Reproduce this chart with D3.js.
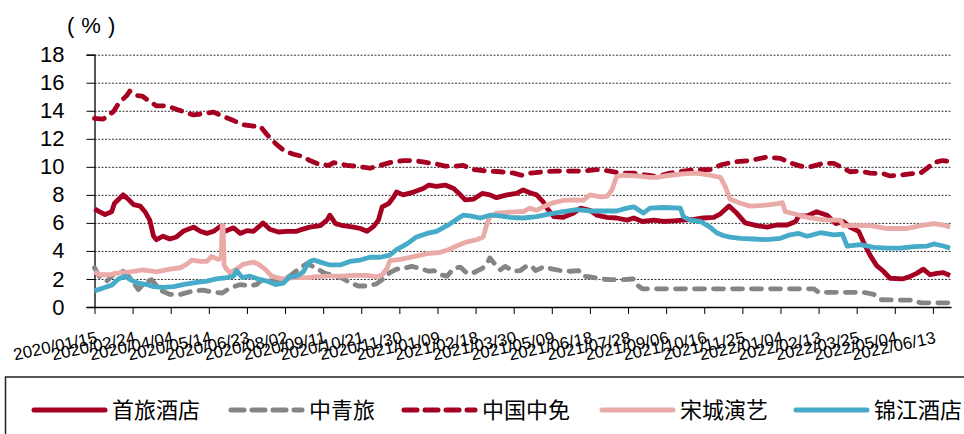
<!DOCTYPE html>
<html>
<head>
<meta charset="utf-8">
<script src="https://cdn.jsdelivr.net/npm/d3@7"></script>
<style>
    body { margin: 0; background: #fff; }
    svg  { display: block; }
</style>
</head>
<body>
<svg id="chart" width="964" height="434"></svg>
<script>
// x values are days counted from 2020/01/15, y values are %
const tickLabels = [
    '2020/01/15', '2020/02/24', '2020/04/04', '2020/05/14', '2020/06/23', '2020/08/02',
    '2020/09/11', '2020/10/21', '2020/11/30', '2021/01/09', '2021/02/18', '2021/03/30',
    '2021/05/09', '2021/06/18', '2021/07/28', '2021/09/06', '2021/10/16', '2021/11/25',
    '2022/01/04', '2022/02/13', '2022/03/25', '2022/05/04', '2022/06/13'
]
const yTicks = [0, 2, 4, 6, 8, 10, 12, 14, 16, 18]
const names  = ['首旅酒店', '中青旅', '中国中免', '宋城演艺', '锦江酒店']

const shouLv = [
    [0,7.0],[5,6.8],[11,6.6],[18,6.8],[21,7.4],[27,7.8],[30,8.0],[36,7.65],[41,7.3],[48,7.2],
    [53,6.8],[58,6.2],[62,5.05],[65,4.8],[72,5.05],[79,4.85],[86,5.0],[93,5.4],[104,5.7],[111,5.4],
    [118,5.25],[125,5.4],[132,5.75],[137,5.4],[146,5.65],[153,5.25],[160,5.45],[167,5.4],[177,6.0],[184,5.55],
    [193,5.35],[202,5.4],[212,5.4],[216,5.5],[226,5.7],[237,5.8],[244,6.2],[247,6.55],[253,5.95],[261,5.8],
    [272,5.7],[279,5.6],[286,5.4],[293,5.75],[298,6.2],[302,7.15],[309,7.4],[314,7.85],[317,8.2],[324,8.0],
    [335,8.2],[345,8.45],[351,8.7],[359,8.6],[368,8.7],[377,8.45],[384,8.0],[389,7.65],[398,7.7],[407,8.1],
    [415,8.0],[422,7.8],[433,8.0],[443,8.1],[450,8.35],[457,8.15],[464,8.0],[471,7.5],[475,7.05],[482,6.45],
    [492,6.4],[503,6.7],[510,7.05],[520,6.9],[527,6.55],[538,6.4],[548,6.35],[559,6.2],[566,6.35],[575,6.1],
    [587,6.2],[597,6.1],[608,6.15],[618,6.2],[629,6.25],[639,6.35],[650,6.4],[657,6.65],[666,7.2],[674,6.7],
    [683,6.0],[695,5.8],[706,5.7],[716,5.85],[727,5.85],[736,6.1],[739,6.5],[748,6.5],[758,6.8],[769,6.55],
    [778,5.95],[786,6.1],[793,5.7],[802,5.4],[807,4.65],[814,3.7],[821,2.95],[828,2.55],[835,2.05],[848,2.0],
    [855,2.15],[863,2.4],[870,2.7],[877,2.3],[884,2.4],[891,2.45],[898,2.25]
]

const zhongQingLv = [
    [0,2.8],[5,2.2],[13,1.85],[22,2.45],[30,2.55],[37,2.1],[46,1.25],[53,1.75],[60,1.95],[69,1.2],
    [79,0.9],[90,0.9],[104,1.15],[114,1.2],[125,1.05],[134,1.0],[142,1.35],[153,1.6],[163,1.5],[170,1.6],
    [177,2.0],[186,1.85],[195,1.85],[205,2.2],[216,2.8],[223,3.1],[232,2.8],[242,2.4],[251,2.25],[260,2.05],
    [268,1.75],[277,1.5],[286,1.5],[296,1.65],[302,1.95],[310,2.45],[317,2.7],[324,2.75],[333,2.9],[342,2.75],
    [351,2.55],[356,2.6],[363,2.3],[370,2.2],[377,2.75],[384,2.85],[391,2.4],[398,2.45],[407,2.75],[412,3.1],
    [415,3.5],[421,3.0],[426,2.65],[431,2.9],[440,2.55],[447,2.6],[454,2.95],[459,2.9],[463,2.6],[471,2.85],
    [478,2.75],[489,2.6],[499,2.55],[508,2.6],[513,2.2],[520,2.15],[531,2.0],[541,1.95],[552,1.95],[566,2.0],
    [571,1.5],[575,1.3],[600,1.3],[650,1.3],[700,1.3],[755,1.3],[760,1.05],[804,1.05],[811,1.0],[818,0.9],
    [825,0.52],[839,0.5],[860,0.48],[867,0.3],[898,0.3]
]

const zhongMian = [
    [0,13.45],[9,13.4],[20,13.95],[25,14.5],[34,15.1],[37,15.4],[43,15.1],[50,15.05],[57,14.7],[65,14.35],
    [76,14.35],[86,14.1],[95,13.9],[104,13.7],[114,13.8],[125,13.9],[135,13.6],[146,13.3],[156,13.0],[167,12.9],
    [174,12.9],[181,12.3],[191,11.6],[200,11.1],[209,10.9],[218,10.75],[226,10.45],[235,10.2],[246,10.1],[251,10.3],
    [265,10.1],[274,10.05],[289,9.9],[300,10.1],[310,10.3],[324,10.45],[335,10.45],[345,10.35],[359,10.2],[368,10.05],
    [379,10.05],[387,10.1],[398,9.8],[412,9.7],[426,9.65],[440,9.55],[448,9.4],[457,9.55],[471,9.65],[485,9.7],
    [499,9.7],[513,9.7],[527,9.8],[541,9.7],[552,9.55],[566,9.55],[580,9.4],[590,9.3],[604,9.55],[618,9.7],
    [632,9.8],[646,9.8],[658,10.15],[671,10.35],[688,10.45],[706,10.7],[720,10.6],[730,10.3],[741,10.05],[751,10.0],
    [765,10.25],[776,10.25],[786,9.9],[793,9.65],[804,9.7],[814,9.55],[828,9.5],[835,9.35],[846,9.4],[856,9.5],
    [867,9.55],[874,9.9],[881,10.3],[890,10.45],[895,10.4]
]

const songCheng = [
    [0,2.5],[6,2.3],[16,2.3],[27,2.45],[37,2.5],[51,2.65],[65,2.5],[79,2.7],[90,2.8],[97,3.05],
    [102,3.35],[111,3.25],[118,3.25],[123,3.6],[130,3.4],[133,3.5],[134,5.8],[135,5.8],[136,3.0],[138,2.75],
    [142,2.45],[149,2.7],[156,3.05],[167,3.2],[172,3.05],[179,2.7],[186,2.2],[197,2.0],[209,2.1],[225,2.1],
    [230,2.15],[244,2.2],[258,2.2],[272,2.25],[286,2.25],[296,2.15],[302,2.3],[307,2.75],[310,3.3],[321,3.4],
    [335,3.6],[349,3.8],[363,3.9],[372,4.1],[380,4.35],[391,4.65],[401,4.8],[408,5.0],[412,5.95],[415,6.45],
    [422,6.7],[433,6.75],[445,6.8],[450,6.8],[457,7.05],[464,6.9],[471,7.15],[482,7.45],[492,7.6],[506,7.65],
    [513,7.6],[520,8.0],[531,7.85],[538,7.9],[543,8.35],[548,9.3],[555,9.4],[569,9.35],[583,9.25],[590,9.25],
    [604,9.4],[618,9.5],[632,9.55],[646,9.4],[657,9.25],[662,8.6],[667,7.7],[678,7.4],[688,7.2],[702,7.25],
    [716,7.35],[722,7.45],[725,6.8],[734,6.65],[748,6.4],[762,6.25],[772,6.2],[783,6.2],[786,5.8],[800,5.8],
    [814,5.8],[832,5.6],[853,5.6],[867,5.8],[881,5.95],[891,5.85],[898,5.7]
]

const jinJiang = [
    [0,1.15],[9,1.35],[18,1.55],[25,2.0],[32,2.2],[39,1.9],[46,1.7],[55,1.6],[62,1.45],[72,1.4],
    [83,1.45],[93,1.6],[107,1.75],[118,1.85],[128,2.0],[139,2.1],[146,2.2],[149,2.6],[155,2.1],[163,2.2],
    [174,1.95],[181,1.85],[190,1.6],[198,1.7],[205,2.15],[212,2.2],[219,2.5],[225,3.2],[230,3.35],[237,3.2],
    [247,3.0],[258,3.0],[268,3.25],[279,3.35],[289,3.55],[300,3.55],[310,3.7],[317,4.1],[328,4.5],[338,5.0],
    [349,5.25],[359,5.4],[370,5.8],[380,6.25],[387,6.55],[394,6.5],[405,6.35],[415,6.55],[426,6.5],[436,6.4],
    [450,6.35],[464,6.45],[478,6.65],[492,6.8],[506,6.95],[520,6.85],[548,6.85],[559,7.05],[566,7.15],[576,6.7],
    [583,7.05],[597,7.1],[615,7.05],[618,6.45],[625,6.2],[636,6.1],[646,5.7],[653,5.3],[660,5.1],[667,4.98],
    [678,4.9],[692,4.85],[706,4.8],[720,4.9],[730,5.15],[739,5.25],[748,5.05],[762,5.3],[776,5.15],[785,5.2],
    [790,4.35],[804,4.45],[818,4.25],[832,4.2],[846,4.2],[860,4.3],[874,4.35],[881,4.5],[891,4.35],[898,4.2]
]

const series = [
    { name: names[0], values: shouLv,      color: '#a50021', dash: null },
    { name: names[1], values: zhongQingLv, color: '#858585', dash: '10,9' },
    { name: names[2], values: zhongMian,   color: '#a50021', dash: '10,9' },
    { name: names[3], values: songCheng,   color: '#eaaba8', dash: null },
    { name: names[4], values: jinJiang,    color: '#46abc8', dash: null }
]

const svg = d3.select('#chart')

const x = d3.scaleLinear().domain([0, 899]).range([94.5, 951])
const y = d3.scaleLinear().domain([0, 18]).range([307, 54.7])

// dotted grid
svg.append('g')
    .attr('transform', `translate(${x(0)},0)`)
    .call(d3.axisLeft(y).tickValues(yTicks.slice(1)).tickSize(-(x(899) - x(0))).tickFormat(''))
    .call(g => g.select('.domain').remove())
    .selectAll('line')
        .attr('stroke', '#333')
        .attr('stroke-width', 1)
        .attr('stroke-dasharray', '2,1.5')

// y axis
svg.append('g')
    .attr('transform', `translate(${x(0)},0)`)
    .call(d3.axisLeft(y).tickValues(yTicks).tickSize(8).tickPadding(22))
    .call(g => g.select('.domain').attr('stroke', '#000').attr('stroke-width', 1.3))
    .call(g => g.selectAll('line').attr('stroke', '#000'))
    .selectAll('text')
        .attr('fill', '#000')
        .style('font-family', '"Liberation Sans", Arial, sans-serif')
        .style('font-size', '22px')

// x axis
svg.append('g')
    .attr('transform', `translate(0,${y(0)})`)
    .call(d3.axisBottom(x)
        .tickValues(tickLabels.map((d, i) => i * 40))
        .tickFormat((d, i) => tickLabels[i])
        .tickSize(7)
        .tickSizeOuter(0))
    .call(g => g.select('.domain').attr('stroke', '#000').attr('stroke-width', 1.3))
    .call(g => g.selectAll('line').attr('stroke', '#000'))
    .selectAll('text')
        .attr('fill', '#000')
        .attr('text-anchor', 'end')
        .attr('dy', 0)
        .attr('transform', 'translate(1,26) rotate(-12)')
        .style('font-family', '"Liberation Sans", Arial, sans-serif')
        .style('font-size', '17px')

svg.append('text')
    .attr('x', 67)
    .attr('y', 33)
    .style('font-family', '"Liberation Sans", Arial, sans-serif')
    .style('font-size', '22px')
    .style('letter-spacing', '7px')
    .text('(%)')

const line = d3.line()
    .x(d => x(d[0]))
    .y(d => y(d[1]))

svg.append('g')
    .attr('fill', 'none')
    .attr('stroke-width', 4.8)
    .attr('stroke-linejoin', 'round')
    .selectAll('path')
    .data(series)
    .join('path')
        .attr('stroke', d => d.color)
        .attr('stroke-dasharray', d => d.dash)
        .attr('stroke-linecap', d => d.dash ? 'round' : 'butt')
        .attr('d', d => line(d.values))

// legend
svg.append('rect')
    .attr('x', 5.5)
    .attr('y', 377)
    .attr('width', 975)
    .attr('height', 80)
    .attr('fill', 'none')
    .attr('stroke', '#222')
    .attr('stroke-width', 1.5)

const legendX = [34, 231, 404, 602, 796]

const items = svg.append('g')
    .selectAll('g')
    .data(series)
    .join('g')
        .attr('transform', (d, i) => `translate(${legendX[i]},410)`)

items.append('line')
    .attr('x1', 0)
    .attr('x2', 71)
    .attr('stroke', d => d.color)
    .attr('stroke-width', 5)
    .attr('stroke-linecap', 'round')
    .attr('stroke-dasharray', d => d.dash ? '13,8' : null)

items.append('text')
    .attr('x', 78)
    .attr('dy', '0.36em')
    .style('font-family', '"Noto Sans CJK SC", sans-serif')
    .style('font-size', '22px')
    .text(d => d.name)
</script>
</body>
</html>
